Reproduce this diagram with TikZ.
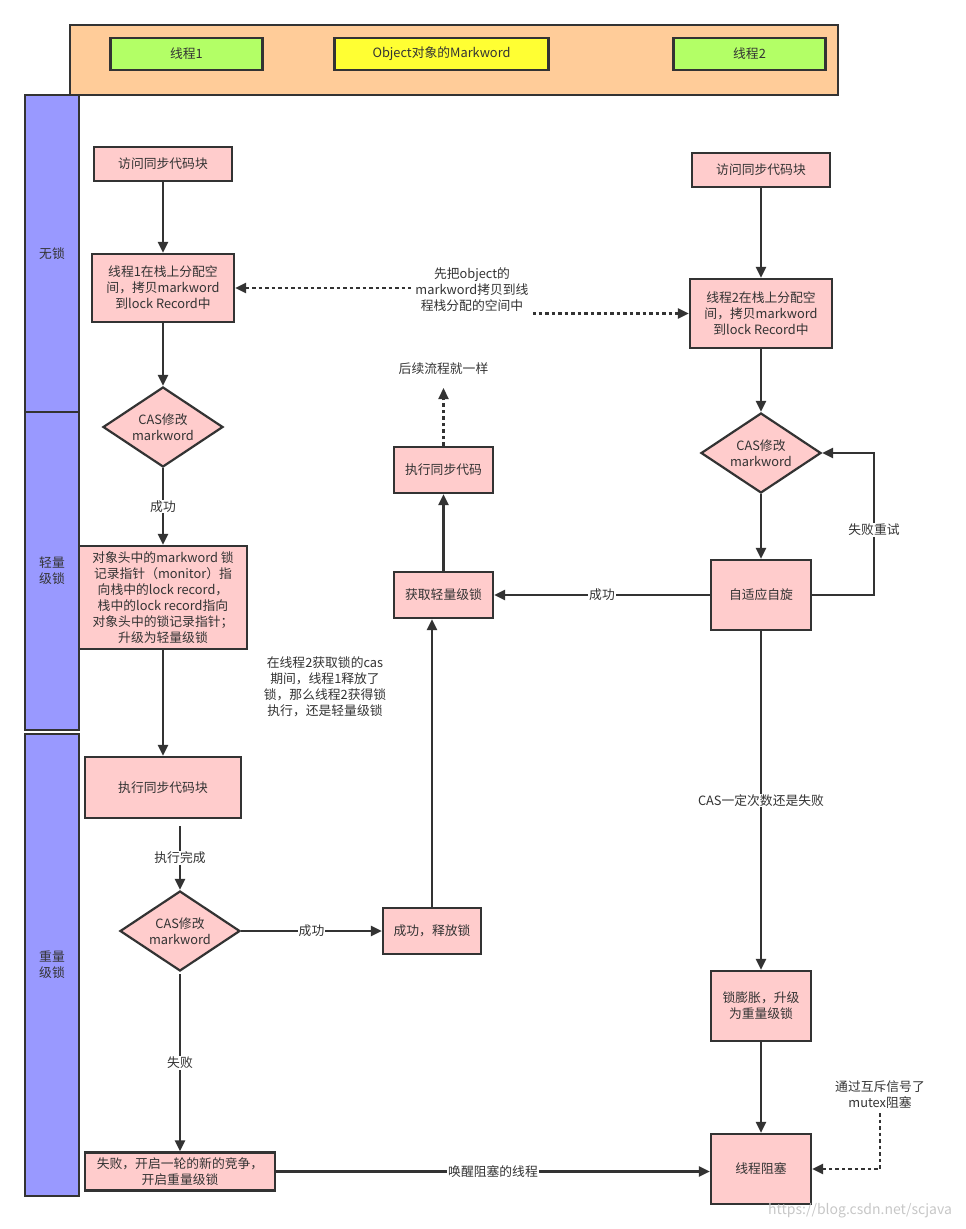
\documentclass[tikz,border=0pt]{standalone}
\usepackage{fontspec}
\setmainfont{Noto Sans CJK SC}
\usetikzlibrary{shapes.geometric,arrows.meta}
\definecolor{ln}{HTML}{333333}
\definecolor{pinkf}{HTML}{FFCCCC}
\definecolor{lanef}{HTML}{9999FF}
\definecolor{hdrf}{HTML}{FFCC99}
\definecolor{greenf}{HTML}{B3FF66}
\definecolor{yellowf}{HTML}{FFFF33}
\begin{document}
\begin{tikzpicture}[x=1pt,y=-1pt,
  every node/.style={font=\fontsize{12.8}{16}\selectfont, text=ln},
  box/.style={draw=ln, line width=2.2pt, fill=pinkf, align=center, inner sep=2pt},
  dia/.style={diamond, draw=ln, line width=2.2pt, fill=pinkf, align=center, inner sep=0pt, aspect=1.5, minimum width=120pt, minimum height=80pt},
  lane/.style={draw=ln, line width=2.2pt, fill=lanef, align=center, minimum width=54pt},
  hbox/.style={draw=ln, line width=2.2pt, minimum height=32pt},
  arr/.style={draw=ln, line width=2.2pt, -{Triangle[length=11pt,width=10pt]}},
  dot/.style={arr, dash pattern=on 3.5pt off 3pt},
  lbl/.style={fill=white, inner sep=1pt},
]
\useasboundingbox (0,0) rectangle (966,1229);

% header
\node[draw=ln, line width=2.2pt, fill=hdrf, minimum width=768pt, minimum height=70pt] (hdr) at (454,60) {};
\node[hbox, fill=greenf, minimum width=152pt] (t1) at (186.5,54) {线程1};
\node[hbox, fill=yellowf, minimum width=214pt] (obj) at (441.5,54) {Object对象的Markword};
\node[hbox, fill=greenf, minimum width=152pt] (t2) at (749.5,54) {线程2};

% lanes
\node[lane, minimum height=317pt] (lane1) at (52,253.5) {无锁};
\node[lane, minimum height=318pt] (lane2) at (52,571) {轻量\\级锁};
\node[lane, minimum height=462pt] (lane3) at (52,965) {重量\\级锁};

% left column
\node[box, minimum width=138pt, minimum height=34pt] (a1) at (163,164) {访问同步代码块};
\node[box, minimum width=142pt, minimum height=68pt] (a2) at (163,288) {线程1在栈上分配空\\间，拷贝markword\\到lock Record中};
\node[dia] (a3) at (163,427) {CAS修改\\markword};
\node[box, minimum width=168pt, minimum height=103pt, inner sep=0pt] (a4) at (163,597.5) {对象头中的markword 锁\\记录指针（monitor）指\\向栈中的lock record，\\栈中的lock record指向\\对象头中的锁记录指针；\\升级为轻量级锁};
\node[box, minimum width=156pt, minimum height=61pt] (a5) at (163,787.5) {执行同步代码块};
\node[dia] (a6) at (180,931) {CAS修改\\markword};
\node[box, minimum width=190pt, minimum height=38pt] (a7) at (180,1171.5) {失败，开启一轮的新的竞争，\\开启重量级锁};
\node[box, minimum width=98pt, minimum height=46pt] (a8) at (432,931) {成功，释放锁};

% middle column
\node[box, minimum width=99pt, minimum height=46pt] (m1) at (443.5,595) {获取轻量级锁};
\node[box, minimum width=99pt, minimum height=46pt] (m2) at (443.5,470) {执行同步代码};
\node (m3) at (443.5,369) {后续流程就一样};
\coordinate (m3a) at (443.5,388);

% right column
\node[box, minimum width=138pt, minimum height=34pt] (b1) at (761,170) {访问同步代码块};
\node[box, minimum width=142pt, minimum height=69pt] (b2) at (761,313.5) {线程2在栈上分配空\\间，拷贝markword\\到lock Record中};
\node[dia] (b3) at (761,453) {CAS修改\\markword};
\node[box, minimum width=100pt, minimum height=70pt] (b4) at (761,595) {自适应自旋};
\node[box, minimum width=100pt, minimum height=70pt] (b5) at (761,1006) {锁膨胀，升级\\为重量级锁};
\node[box, minimum width=100pt, minimum height=70pt] (b6) at (761,1169) {线程阻塞};

% connectors, left
\draw[arr] (a1) -- (a2);
\draw[arr] (a2) -- (a3);
\draw[arr] (a3) -- (a4) node[lbl,midway] {成功};
\draw[arr] (a4) -- (a5);
\coordinate (c1) at (180,826);
\draw[arr] (c1) -- (a6.north) node[lbl,midway] {执行完成};
\draw[arr] (a6.east) -- (a8.west) node[lbl,midway] {成功};
\coordinate (c2) at (180,974);
\draw[arr] (c2) -- (a7.north) node[lbl,midway] {失败};
\draw[arr] (a7.east) -- (a7.east -| b6.west) node[lbl,midway] {唤醒阻塞的线程};

% middle
\draw[arr] (a8.north) -- (a8.north |- m1.south);
\draw[arr] (m1) -- (m2);
\draw[dot] (m2.north) -- (m3a);

% right
\draw[arr] (b1) -- (b2);
\draw[arr] (b2) -- (b3);
\draw[arr] (b3) -- (b4);
\draw[arr] (b4.east) -- (874,595) -- (874,453) -- (b3.east);
\node[lbl] (l1) at (874,530) {失败重试};
\draw[arr] (b4.west) -- (m1.east) node[lbl,midway] {成功};
\draw[arr] (b4) -- (b5) node[lbl,midway] {CAS一定次数还是失败};
\draw[arr] (b5) -- (b6);

% dotted connectors
\draw[dot, {Triangle[length=11pt,width=10pt]}-{Triangle[length=11pt,width=10pt]}] (a2.east) -- (472,288) -- (472,313.5) -- (b2.west);
\node[fill=white, align=center, inner sep=4pt] (l2) at (472,290) {先把object的\\markword拷贝到线\\程栈分配的空间中};

\coordinate (c3) at (880,1113);
\draw[dot] (c3) -- (880,1169) -- (b6.east);
\node[align=center] (l3) at (880,1095) {通过互斥信号了\\mutex阻塞};

\node[align=center] (l4) at (325,687) {在线程2获取锁的cas\\期间，线程1释放了\\锁，那么线程2获得锁\\执行，还是轻量级锁};

% watermark
\node[text=black!22, font=\fontsize{14}{16}\selectfont] (wm) at (860,1211) {https://blog.csdn.net/scjava};
\end{tikzpicture}
\end{document}
